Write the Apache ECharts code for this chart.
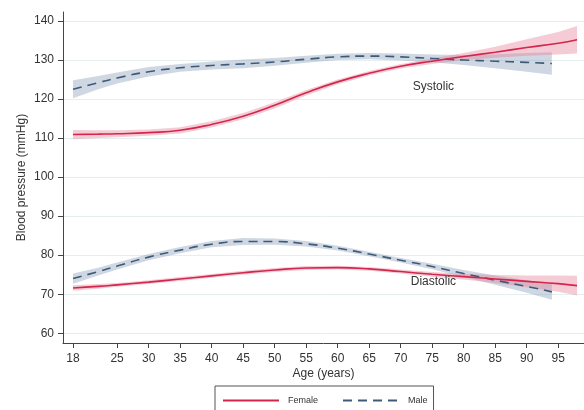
<!DOCTYPE html>
<html><head><meta charset="utf-8">
<script src="https://cdn.jsdelivr.net/npm/echarts@6/dist/echarts.min.js"></script>
<style>html,body{margin:0;padding:0;background:#fff}#c{width:584px;height:410px}</style>
</head><body><div id="c"></div>
<script>
// Tick labels
const xTicks = [18,25,30,35,40,45,50,55,60,65,70,75,80,85,90,95];
const yTicks = [60,70,80,90,100,110,120,130,140];

// Ages
const maleAges   = [18,22,25,30,35,40,45,50,55,60,65,70,75,80,85,90,94];
const femaleAges = [18,22,25,30,35,40,45,50,55,60,65,70,75,80,85,90,95,98];

// Systolic
const maleSys     = [122.5,124.2,125.4,127.0,128.0,128.6,129.0,129.5,130.2,130.8,131.0,130.8,130.4,130.0,129.7,129.4,129.1];
const maleSysLow  = [120.2,122.5,124.0,125.8,127.0,127.6,127.9,128.5,129.3,130.0,130.2,129.9,129.4,128.7,127.9,127.0,126.2];
const maleSysHigh = [124.8,125.9,126.8,128.2,129.0,129.6,130.1,130.5,131.1,131.6,131.8,131.7,131.4,131.3,131.5,131.8,132.0];

const femSys     = [110.9,111.0,111.1,111.4,112.0,113.5,115.6,118.4,121.6,124.4,126.6,128.4,129.7,130.9,132.0,133.2,134.3,135.2];
const femSysLow  = [109.7,110.0,110.2,110.6,111.2,112.7,114.8,117.6,120.9,123.8,126.0,127.8,129.0,130.0,130.6,131.1,131.4,131.7];
const femSysHigh = [112.1,112.0,112.0,112.2,112.8,114.3,116.4,119.2,122.3,125.0,127.2,129.0,130.4,131.8,133.4,135.3,137.2,138.7];

// Diastolic
const maleDia     = [74.0,75.8,77.2,79.5,81.3,82.8,83.5,83.5,82.9,81.8,80.3,78.7,77.1,75.3,73.6,72.0,70.6];
const maleDiaLow  = [72.7,74.8,76.3,78.7,80.5,82.0,82.6,82.7,82.2,81.2,79.7,78.1,76.4,74.4,72.4,70.4,68.6];
const maleDiaHigh = [75.3,76.8,78.1,80.3,82.1,83.6,84.4,84.3,83.6,82.4,80.9,79.3,77.8,76.2,74.8,73.6,72.6];

const femDia     = [71.6,72.0,72.4,73.1,73.9,74.7,75.5,76.2,76.7,76.8,76.5,75.8,75.1,74.5,73.9,73.3,72.7,72.2];
const femDiaLow  = [70.9,71.4,71.9,72.6,73.4,74.2,75.0,75.7,76.2,76.3,76.0,75.3,74.5,73.8,72.9,71.8,70.6,69.7];
const femDiaHigh = [72.3,72.6,72.9,73.6,74.4,75.2,76.0,76.7,77.2,77.3,77.0,76.3,75.7,75.2,74.9,74.8,74.8,74.7];

const FEMALE = '#d3264c';
const MALE = '#3f5a78';
const FEMALE_BAND = 'rgba(228,120,148,0.38)';
const MALE_BAND = 'rgba(130,150,178,0.38)';

function band(name, ages, low, high, color) {
  return {
    type: 'custom', name: name, silent: true, z: 1, clip: true,
    data: ages.map((a, i) => [a, low[i]]),
    encode: { x: 0, y: 1 },
    renderItem: function (params, api) {
      if (params.dataIndex !== 0) return null;
      const pts = [];
      for (let i = 0; i < ages.length; i++) pts.push(api.coord([ages[i], high[i]]));
      for (let i = ages.length - 1; i >= 0; i--) pts.push(api.coord([ages[i], low[i]]));
      return { type: 'polygon', shape: { points: pts }, style: { fill: color } };
    }
  };
}
function line(name, ages, vals, color, dashed, extra) {
  return Object.assign({
    type: 'line', name: name, z: 3, smooth: 0.5, symbol: 'none', showSymbol: false,
    data: ages.map((a, i) => [a, vals[i]]),
    lineStyle: { color: color, width: 1.6, type: dashed ? [9, 6] : 'solid' },
    itemStyle: { color: color }
  }, extra || {});
}

const chart = echarts.init(document.getElementById('c'), null, { renderer: 'canvas' });
chart.setOption({
  animation: false,
  backgroundColor: '#ffffff',
  textStyle: { fontFamily: 'Liberation Sans, Arial, sans-serif' },
  grid: { left: 63, right: 0, top: 12, bottom: 67 },
  xAxis: {
    type: 'value', min: 16.41, max: 99.1,
    name: 'Age (years)', nameLocation: 'middle', nameGap: 25, nameMoveOverlap: false,
    nameTextStyle: { fontSize: 12, color: '#333' },
    axisLine: { show: true, onZero: false, lineStyle: { color: '#444', width: 1 } },
    axisTick: { show: true, length: 5, customValues: xTicks, lineStyle: { color: '#444' } },
    axisLabel: { customValues: xTicks, fontSize: 12, color: '#333', margin: 10 },
    splitLine: { show: false }
  },
  yAxis: {
    type: 'value', min: 57.5, max: 142.3,
    name: 'Blood pressure (mmHg)', nameLocation: 'middle', nameGap: 35, nameMoveOverlap: false,
    nameTextStyle: { fontSize: 12, color: '#333' },
    axisLine: { show: true, onZero: false, lineStyle: { color: '#444', width: 1 } },
    axisTick: { show: true, length: 5, customValues: yTicks, lineStyle: { color: '#444' } },
    axisLabel: { customValues: yTicks, fontSize: 12, color: '#333', margin: 9 },
    splitLine: { show: true, lineStyle: { color: '#e6efef', width: 1 } }
  },
  legend: {
    data: ['Female', 'Male'], left: 215, top: 386,
    padding: [10, 6, 10, 7], itemGap: 24, itemWidth: 56, itemHeight: 8,
    borderColor: '#555', borderWidth: 1, backgroundColor: '#fff',
    itemStyle: { opacity: 0 },
    textStyle: { fontSize: 9, color: '#333', padding: [0, 0, 0, 4] }
  },
  series: [
    band('Male sys CI', maleAges, maleSysLow, maleSysHigh, MALE_BAND),
    band('Female sys CI', femaleAges, femSysLow, femSysHigh, FEMALE_BAND),
    band('Male dia CI', maleAges, maleDiaLow, maleDiaHigh, MALE_BAND),
    band('Female dia CI', femaleAges, femDiaLow, femDiaHigh, FEMALE_BAND),
    line('Male', maleAges, maleSys, MALE, true),
    line('Female', femaleAges, femSys, FEMALE, false, {
      markPoint: {
        symbol: 'circle', symbolSize: 0, silent: true,
        label: { show: true, position: 'inside', fontSize: 12, color: '#333', formatter: '{b}' },
        data: [
          { name: 'Systolic', coord: [75.2, 123.1] },
          { name: 'Diastolic', coord: [75.2, 73.1] }
        ]
      }
    }),
    line('Male', maleAges, maleDia, MALE, true),
    line('Female', femaleAges, femDia, FEMALE, false)
  ]
});
</script>
</body></html>
